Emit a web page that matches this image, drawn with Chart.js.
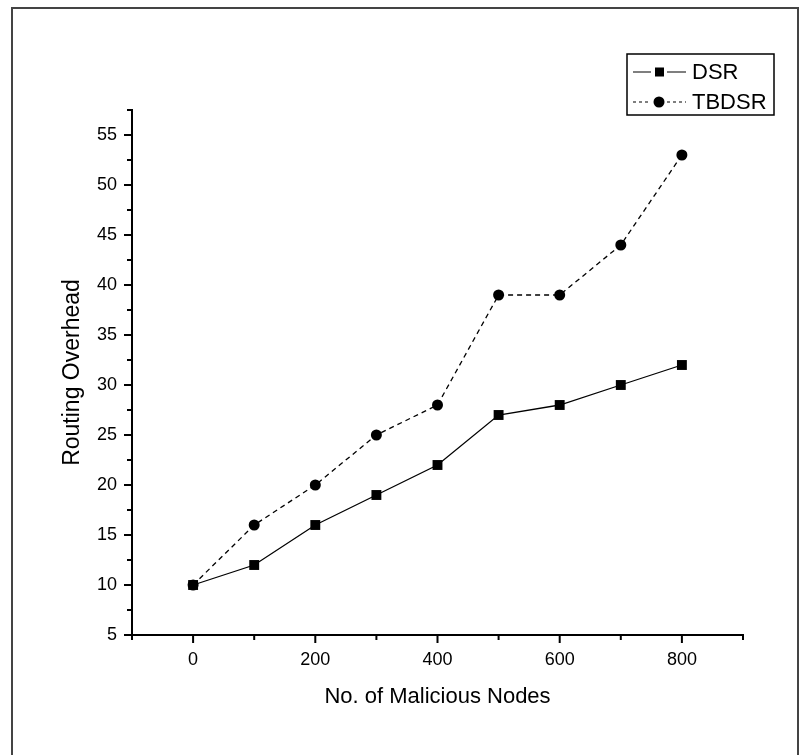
<!DOCTYPE html>
<html lang="en">
<head>
  <meta charset="UTF-8" />
  <title>Routing Overhead vs Malicious Nodes</title>
  <script src="https://cdn.jsdelivr.net/npm/chart.js"></script>
  <style>
    body {
      margin: 0;
      padding: 0;
      background: #ffffff;
    }
    canvas {
      display: block;
    }
  </style>
</head>
<body>
  <canvas id="overheadChart" width="810" height="755"></canvas>

  <script>
    // data
    const nodes = [0, 100, 200, 300, 400, 500, 600, 700, 800];
    const dsr = [10, 12, 16, 19, 22, 27, 28, 30, 32];
    const tbdsr = [10, 16, 20, 25, 28, 39, 39, 44, 53];
    const xTickValues = [0, 200, 400, 600, 800];
    const xMinorValues = [-100, 100, 300, 500, 700, 900];
    const yTickValues = [5, 10, 15, 20, 25, 30, 35, 40, 45, 50, 55];
    const yMinorValues = [7.5, 12.5, 17.5, 22.5, 27.5, 32.5, 37.5, 42.5, 47.5, 52.5, 57.5];

    const FONT = '"Liberation Sans", Arial, sans-serif';

    // tick marks (major + minor), drawn outside the axes
    const tickMarks = {
      id: 'tickMarks',
      afterDraw(chart) {
        const ctx = chart.ctx;
        const xs = chart.scales.x, ys = chart.scales.y;
        const axisY = chart.chartArea.bottom, axisX = chart.chartArea.left;
        ctx.save();
        ctx.strokeStyle = '#000';
        ctx.lineWidth = 2;
        ctx.beginPath();
        xTickValues.forEach(v => { const p = xs.getPixelForValue(v); ctx.moveTo(p, axisY); ctx.lineTo(p, axisY + 8); });
        xMinorValues.forEach(v => { const p = xs.getPixelForValue(v); ctx.moveTo(p, axisY); ctx.lineTo(p, axisY + 5); });
        yTickValues.forEach(v => { const p = ys.getPixelForValue(v); ctx.moveTo(axisX, p); ctx.lineTo(axisX - 8, p); });
        yMinorValues.forEach(v => { const p = ys.getPixelForValue(v); ctx.moveTo(axisX, p); ctx.lineTo(axisX - 5, p); });
        ctx.stroke();
        ctx.restore();
      }
    };

    // boxed legend with line-marker-line samples, plus the outer frame
    const boxLegend = {
      id: 'boxLegend',
      afterDraw(chart) {
        const ctx = chart.ctx;
        ctx.save();
        // outer frame of the figure
        ctx.strokeStyle = '#444';
        ctx.lineWidth = 2;
        ctx.strokeRect(12, 8, 786, 760);

        ctx.strokeStyle = '#000';
        ctx.lineWidth = 1.5;
        ctx.strokeRect(627, 54, 147, 61);

        const rows = [
          { label: 'DSR', y: 72, dash: [], style: 'rect' },
          { label: 'TBDSR', y: 102, dash: [3, 3], style: 'circle' }
        ];
        rows.forEach(r => {
          ctx.lineWidth = 1.2;
          ctx.setLineDash(r.dash);
          ctx.beginPath();
          ctx.moveTo(633, r.y);
          ctx.lineTo(651, r.y);
          ctx.moveTo(667, r.y);
          ctx.lineTo(686, r.y);
          ctx.stroke();
          ctx.setLineDash([]);
          ctx.fillStyle = '#000';
          if (r.style === 'rect') {
            ctx.fillRect(655, r.y - 4.5, 9, 9);
          } else {
            ctx.beginPath();
            ctx.arc(659, r.y, 5.5, 0, Math.PI * 2);
            ctx.fill();
          }
          ctx.font = '22px ' + FONT;
          ctx.textBaseline = 'middle';
          ctx.fillText(r.label, 692, r.y + 1);
        });
        ctx.restore();
      }
    };

    new Chart(document.getElementById('overheadChart').getContext('2d'), {
      type: 'line',
      data: {
        datasets: [
          {
            label: 'DSR',
            data: nodes.map((n, i) => ({ x: n, y: dsr[i] })),
            borderColor: '#000',
            backgroundColor: '#000',
            borderWidth: 1.3,
            pointStyle: 'rect',
            pointRadius: 7,
            pointBorderWidth: 0,
            order: 1
          },
          {
            label: 'TBDSR',
            data: nodes.map((n, i) => ({ x: n, y: tbdsr[i] })),
            borderColor: '#000',
            backgroundColor: '#000',
            borderWidth: 1.3,
            borderDash: [5, 4],
            pointStyle: 'circle',
            pointRadius: 5.5,
            pointBorderWidth: 0,
            order: 0
          }
        ]
      },
      options: {
        responsive: false,
        animation: false,
        devicePixelRatio: 1,
        layout: { padding: { top: 110, right: 67, left: 0, bottom: 0 } },
        plugins: {
          legend: { display: false },
          tooltip: { enabled: false }
        },
        scales: {
          x: {
            type: 'linear',
            min: -100,
            max: 900,
            afterBuildTicks: s => { s.ticks = xTickValues.map(v => ({ value: v })); },
            afterFit: s => { s.height = 120; },
            grid: { display: false, drawTicks: false },
            border: { display: true, color: '#000', width: 2 },
            ticks: { color: '#000', font: { family: FONT, size: 18 }, padding: 14, maxRotation: 0 },
            title: {
              display: true,
              text: 'No. of Malicious Nodes',
              color: '#000',
              font: { family: FONT, size: 22 },
              padding: { top: 0, bottom: 45 }
            }
          },
          y: {
            type: 'linear',
            min: 5,
            max: 57.5,
            afterBuildTicks: s => { s.ticks = yTickValues.map(v => ({ value: v })); },
            afterFit: s => { s.width = 132; },
            grid: { display: false, drawTicks: false },
            border: { display: true, color: '#000', width: 2 },
            ticks: { color: '#000', font: { family: FONT, size: 18 }, padding: 15 },
            title: {
              display: true,
              text: 'Routing Overhead',
              color: '#000',
              font: { family: FONT, size: 23 },
              padding: { top: 59, bottom: 0 }
            }
          }
        }
      },
      plugins: [tickMarks, boxLegend]
    });
  </script>
</body>
</html>
